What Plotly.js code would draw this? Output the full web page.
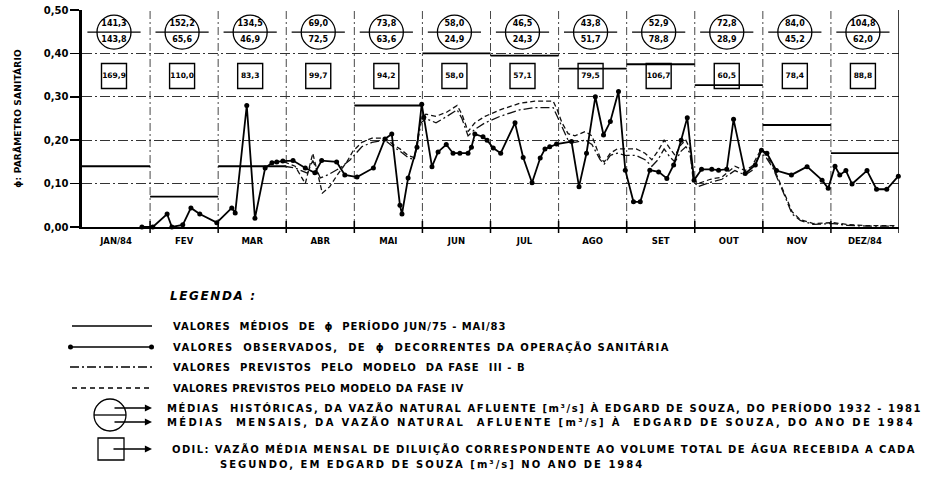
<!DOCTYPE html>
<html><head><meta charset="utf-8">
<script src="https://cdn.plot.ly/plotly-3.0.1.min.js"></script>
<style>html,body{margin:0;padding:0;background:#fff}</style>
</head><body><div id="chart" style="width:926px;height:496px"></div>
<script>
// ---------------- DATA ----------------
const months = ['JAN/84','FEV','MAR','ABR','MAI','JUN','JUL','AGO','SET','OUT','NOV','DEZ/84'];
// mean phi per month, period JUN/75 - MAI/83 (null = not visible)
const meanPhi = [0.14,0.07,0.14,null,0.28,0.40,0.395,0.365,0.375,0.327,0.235,0.17];
// historical mean natural inflow 1932-1981 (upper number in circle)
const histFlow = ['141,3','152,2','134,5','69,0','73,8','58,0','46,5','43,8','52,9','72,8','84,0','104,8'];
// monthly mean natural inflow 1984 (lower number in circle)
const flow1984 = ['143,8','65,6','46,9','72,5','63,6','24,9','24,3','51,7','78,8','28,9','45,2','62,0'];
// ODIL monthly mean dilution flow (box)
const odil = ['169,9','110,0','83,3','99,7','94,2','58,0','57,1','79,5','106,7','60,5','78,4','88,8'];
// observed phi (x in months from 1 Jan 1984)
const obsX = [0.88,1.04,1.25,1.32,1.48,1.60,1.73,1.98,2.20,2.25,2.42,2.54,2.69,2.79,2.86,2.95,3.10,3.28,3.42,3.52,3.74,3.86,4.04,4.28,4.45,4.55,4.67,4.70,4.79,4.92,4.99,5.02,5.14,5.23,5.35,5.45,5.55,5.67,5.72,5.77,5.89,5.95,6.04,6.15,6.36,6.48,6.61,6.73,6.80,6.87,6.97,7.19,7.30,7.41,7.54,7.66,7.76,7.88,7.98,8.10,8.20,8.34,8.47,8.59,8.69,8.80,8.89,8.99,9.10,9.25,9.35,9.47,9.57,9.74,9.89,9.98,10.06,10.20,10.42,10.65,10.87,10.96,11.06,11.13,11.22,11.31,11.53,11.67,11.82,11.99];
const obsY = [0.00,0.00,0.03,0.00,0.005,0.044,0.03,0.01,0.044,0.032,0.28,0.02,0.136,0.148,0.15,0.152,0.153,0.136,0.125,0.153,0.15,0.12,0.115,0.136,0.203,0.214,0.05,0.03,0.113,0.184,0.283,0.253,0.139,0.173,0.19,0.17,0.17,0.17,0.184,0.214,0.208,0.20,0.182,0.17,0.24,0.16,0.102,0.159,0.18,0.185,0.191,0.197,0.093,0.17,0.30,0.212,0.243,0.312,0.131,0.058,0.058,0.131,0.127,0.112,0.143,0.20,0.252,0.108,0.133,0.133,0.131,0.133,0.248,0.123,0.143,0.177,0.17,0.13,0.12,0.139,0.108,0.089,0.14,0.12,0.13,0.099,0.13,0.087,0.087,0.117];
// model Fase IV (dashed)
const f4X = [2.97,3.13,3.28,3.39,3.53,3.64,3.75,3.89,3.98,4.11,4.26,4.45,4.57,4.67,4.79,4.88,4.98,5.05,5.20,5.36,5.51,5.58,5.67,5.77,5.92,6.14,6.43,6.65,6.92,6.98,7.05,7.14,7.24,7.39,7.49,7.61,7.67,7.76,7.86,7.98,8.14,8.27,8.37,8.46,8.55,8.64,8.71,8.80,8.87,8.93,8.98,9.05,9.23,9.40,9.59,9.74,9.84,9.96,10.03,10.15,10.30,10.43,10.55,10.74,11.03,11.24,11.53,11.97];
const f4Y = [0.15,0.14,0.10,0.17,0.078,0.093,0.12,0.15,0.175,0.195,0.205,0.205,0.19,0.18,0.165,0.16,0.25,0.26,0.255,0.265,0.28,0.26,0.22,0.24,0.255,0.27,0.285,0.29,0.29,0.27,0.24,0.215,0.21,0.22,0.21,0.16,0.15,0.17,0.18,0.18,0.18,0.17,0.155,0.175,0.20,0.18,0.165,0.19,0.20,0.18,0.11,0.10,0.11,0.115,0.14,0.13,0.14,0.175,0.17,0.14,0.085,0.035,0.017,0.008,0.01,0.006,0.003,0.003];
// model Fase III-B (dash-dot)
const f3X = [2.97,3.13,3.31,3.39,3.50,3.61,3.79,3.94,4.11,4.26,4.45,4.57,4.67,4.79,4.88,4.98,5.05,5.20,5.36,5.51,5.58,5.67,5.77,5.92,6.14,6.43,6.65,6.92,6.98,7.05,7.14,7.24,7.39,7.49,7.61,7.67,7.76,7.86,7.98,8.14,8.27,8.37,8.46,8.55,8.64,8.71,8.80,8.87,8.93,8.98,9.05,9.23,9.40,9.59,9.74,9.84,9.96,10.03,10.15,10.30,10.43,10.55,10.74,11.03,11.24,11.53,11.97];
const f3Y = [0.14,0.136,0.124,0.153,0.113,0.12,0.136,0.155,0.185,0.195,0.20,0.185,0.175,0.16,0.155,0.24,0.25,0.24,0.255,0.27,0.25,0.21,0.225,0.24,0.255,0.27,0.275,0.275,0.255,0.23,0.20,0.195,0.20,0.19,0.155,0.145,0.165,0.17,0.165,0.165,0.155,0.14,0.155,0.18,0.16,0.15,0.175,0.185,0.17,0.105,0.093,0.103,0.11,0.13,0.12,0.13,0.168,0.165,0.135,0.08,0.03,0.015,0.006,0.008,0.004,0.002,0.002];
const yTicks = [0,0.1,0.2,0.3,0.4,0.5];

// ---------------- LAYOUT HELPERS ----------------
const FONT = 'DejaVu Sans';
const L = 82, R = 899, T = 10, B = 227;
const px = x => (x - L) / (R - L);
const py = y => (B - y) / (B - T);
const sp = (s, ls) => '<span style="letter-spacing:' + ls + 'px">' + s + '</span>';

const meanX = [], meanY = [];
meanPhi.forEach((v, i) => { if (v !== null) { meanX.push(i, i + 1, null); meanY.push(v, v, null); } });
const mid = months.map((_, i) => i + 0.47);
const CIR_Y = 0.449, BOX_Y = 0.348;

const traces = [
  {x: meanX, y: meanY, mode: 'lines', line: {color: '#000', width: 1.8}, hoverinfo: 'skip'},
  {x: f3X, y: f3Y, mode: 'lines', line: {color: '#111', width: 1.3, dash: '9px,3px,2px,3px'}, hoverinfo: 'skip'},
  {x: f4X, y: f4Y, mode: 'lines', line: {color: '#111', width: 1.3, dash: '5px,3px'}, hoverinfo: 'skip'},
  {x: obsX, y: obsY, mode: 'lines+markers', cliponaxis: false, line: {color: '#000', width: 1.8},
   marker: {color: '#000', size: 5}, hoverinfo: 'skip'},
  {x: mid, y: mid.map(() => CIR_Y), mode: 'markers', cliponaxis: false,
   marker: {symbol: 'circle-open', size: 34, color: '#000', line: {width: 1.3, color: '#000'}}, hoverinfo: 'skip'},
  {x: mid, y: mid.map(() => CIR_Y), mode: 'markers', cliponaxis: false,
   marker: {symbol: 'line-ew-open', size: 38, color: '#000', line: {width: 1.1, color: '#000'}}, hoverinfo: 'skip'},
  {x: mid, y: mid.map(() => 0.468), mode: 'text', text: histFlow, cliponaxis: false,
   textfont: {family: FONT, size: 8, color: '#000', weight: 'bold'}, hoverinfo: 'skip'},
  {x: mid, y: mid.map(() => 0.431), mode: 'text', text: flow1984, cliponaxis: false,
   textfont: {family: FONT, size: 8, color: '#000', weight: 'bold'}, hoverinfo: 'skip'},
  {x: mid, y: mid.map(() => BOX_Y), mode: 'markers+text', text: odil, cliponaxis: false,
   marker: {symbol: 'square-open', size: 25, color: '#000', line: {width: 1.4, color: '#000'}},
   textfont: {family: FONT, size: 7.5, color: '#000', weight: 'bold'}, textposition: 'middle center', hoverinfo: 'skip'}
];

const shapes = [];
// vertical month grid lines and crossing ticks on the x axis
for (let i = 1; i < months.length; i++) {
  shapes.push({type: 'line', xref: 'x', yref: 'paper', x0: i, x1: i, y0: 0, y1: 1, layer: 'below',
               line: {color: '#333', width: 0.9, dash: '8px,3px,2px,3px'}});
  shapes.push({type: 'line', xref: 'x', yref: 'paper', x0: i, x1: i, y0: py(233), y1: py(221),
               line: {color: '#000', width: 1.5}});
}
shapes.push({type: 'line', xref: 'x', yref: 'paper', x0: 12, x1: 12, y0: py(233), y1: 1, line: {color: '#000', width: 1.5}});

// legend symbols
const rowY = [326, 347, 367, 388];
shapes.push({type: 'line', xref: 'paper', yref: 'paper', x0: px(72), x1: px(152), y0: py(rowY[0]), y1: py(rowY[0]), line: {color: '#000', width: 1.6}});
shapes.push({type: 'line', xref: 'paper', yref: 'paper', x0: px(70), x1: px(152), y0: py(rowY[1]), y1: py(rowY[1]), line: {color: '#000', width: 1.4}});
shapes.push({type: 'circle', xref: 'paper', yref: 'paper', x0: px(68), x1: px(73), y0: py(rowY[1] + 2.5), y1: py(rowY[1] - 2.5), fillcolor: '#000', line: {width: 0}});
shapes.push({type: 'circle', xref: 'paper', yref: 'paper', x0: px(149), x1: px(154), y0: py(rowY[1] + 2.5), y1: py(rowY[1] - 2.5), fillcolor: '#000', line: {width: 0}});
shapes.push({type: 'line', xref: 'paper', yref: 'paper', x0: px(70), x1: px(153), y0: py(rowY[2]), y1: py(rowY[2]), line: {color: '#000', width: 1.3, dash: '9px,3px,2px,3px'}});
shapes.push({type: 'line', xref: 'paper', yref: 'paper', x0: px(72), x1: px(152), y0: py(rowY[3]), y1: py(rowY[3]), line: {color: '#000', width: 1.3, dash: '5px,4px'}});
const cY = 415, hY = 408, mY = 422;
shapes.push({type: 'circle', xref: 'paper', yref: 'paper', x0: px(94), x1: px(126), y0: py(cY + 16), y1: py(cY - 16), line: {color: '#000', width: 1.3}});
shapes.push({type: 'line', xref: 'paper', yref: 'paper', x0: px(94), x1: px(126), y0: py(cY), y1: py(cY), line: {color: '#000', width: 1.3}});
const bY = 449;
shapes.push({type: 'rect', xref: 'paper', yref: 'paper', x0: px(98), x1: px(124), y0: py(bY + 11), y1: py(bY - 11), line: {color: '#000', width: 1.3}});

const tf = (size) => ({family: FONT, size: size, color: '#000', weight: 'bold'});
const annotations = [];
const leftText = (x, y, text, size, ls) => annotations.push({xref: 'paper', yref: 'paper', x: px(x), y: py(y),
  xanchor: 'left', yanchor: 'middle', align: 'left', showarrow: false, text: sp(text, ls), font: tf(size)});
const arrow = (x0, x1, y) => annotations.push({xref: 'paper', yref: 'paper', x: px(x1), y: py(y), ax: x0 - x1, ay: 0,
  showarrow: true, arrowhead: 2, arrowsize: 1.1, arrowwidth: 1.3, arrowcolor: '#000', text: ''});

annotations.push({xref: 'paper', yref: 'paper', x: px(168), y: py(296), xanchor: 'left', yanchor: 'middle', showarrow: false,
  text: sp('<i>LEGENDA :</i>', 1.6), font: {family: FONT, size: 12, color: '#000', weight: 'bold'}});
leftText(171, rowY[0], 'VALORES  MÉDIOS  DE  ϕ  PERÍODO JUN/75 - MAI/83', 10, 0.95);
leftText(171, rowY[1], 'VALORES  OBSERVADOS,  DE  ϕ  DECORRENTES DA OPERAÇÃO SANITÁRIA', 10, 1.35);
leftText(171, rowY[2], 'VALORES  PREVISTOS  PELO  MODELO  DA FASE  III - B', 10, 1.0);
leftText(171, rowY[3], 'VALORES PREVISTOS PELO MODELO DA FASE IV', 10, 0.6);
arrow(113, 152, hY); arrow(113, 152, mY);
leftText(165, hY, 'MÉDIAS  HISTÓRICAS, DA VAZÃO NATURAL AFLUENTE [m³/s] À EDGARD DE SOUZA, DO PERÍODO 1932 - 1981', 10, 1.55);
leftText(165, mY, 'MÉDIAS  MENSAIS, DA VAZÃO NATURAL  AFLUENTE [m³/s] À  EDGARD DE SOUZA, DO ANO DE 1984', 10, 2.3);
arrow(112, 152, bY);
leftText(170, bY, 'ODIL: VAZÃO MÉDIA MENSAL DE DILUIÇÃO CORRESPONDENTE AO VOLUME TOTAL DE ÁGUA RECEBIDA A CADA', 10, 1.4);
leftText(218, bY + 15, 'SEGUNDO, EM EDGARD DE SOUZA [m³/s] NO ANO DE 1984', 10, 2.0);

const layout = {
  width: 926, height: 496,
  margin: {l: L, r: 926 - R, t: T, b: 496 - B, pad: 0},
  paper_bgcolor: '#fff', plot_bgcolor: '#fff',
  separators: ',.',
  showlegend: false, hovermode: false,
  xaxis: {range: [0, 12], tickmode: 'array', tickvals: months.map((_, i) => i + 0.5), ticktext: months,
          ticks: 'outside', ticklen: 5, tickcolor: 'rgba(0,0,0,0)', showgrid: false, zeroline: false,
          showline: true, linecolor: '#000', linewidth: 1.6, tickfont: tf(8.5), fixedrange: true},
  yaxis: {range: [0, 0.5], tickmode: 'array', tickvals: yTicks, tickformat: '.2f',
          ticks: 'outside', ticklen: 9, tickwidth: 1.5, tickcolor: '#000',
          showline: true, linecolor: '#000', linewidth: 2.6, zeroline: false,
          showgrid: true, gridcolor: '#333', gridwidth: 1, griddash: '10px,3px,2px,3px',
          tickfont: tf(10), automargin: false, fixedrange: true,
          title: {text: sp('ϕ: PARÂMETRO SANITÁRIO', 0.2), font: tf(9), standoff: 21}},
  shapes: shapes,
  annotations: annotations
};

Plotly.newPlot('chart', traces, layout, {displayModeBar: false, staticPlot: true});
</script>
</body></html>
